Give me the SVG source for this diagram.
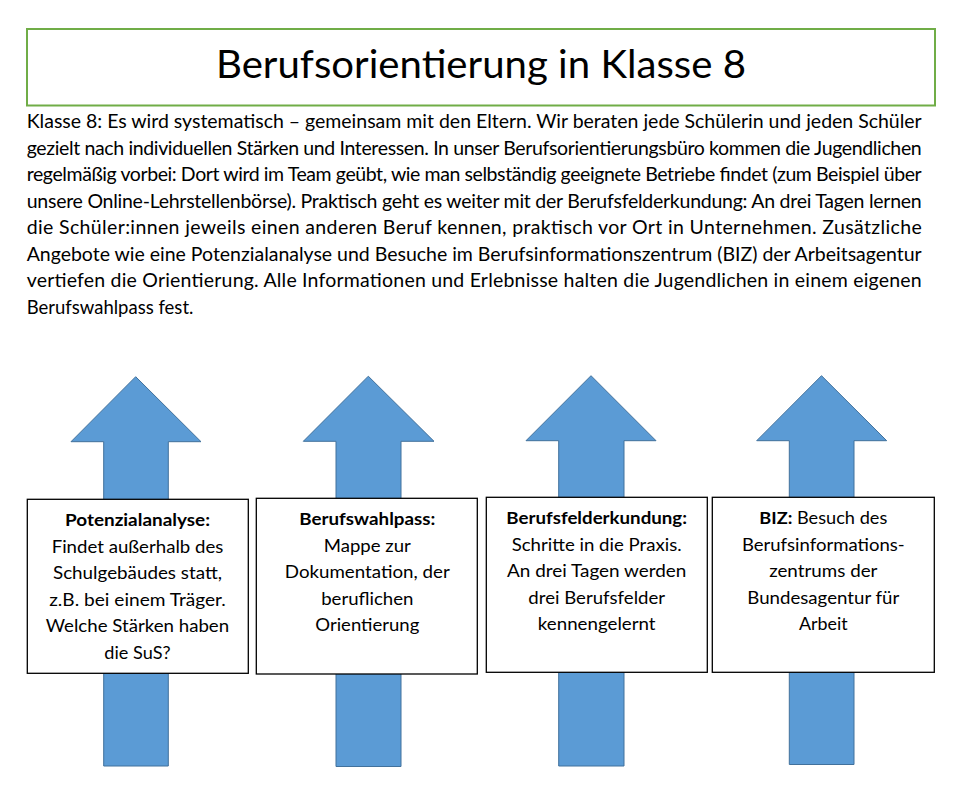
<svg xmlns="http://www.w3.org/2000/svg" width="960" height="789" viewBox="0 0 960 789">
<style>
text { font-family: Lato, "Liberation Sans", sans-serif; fill: #000; }
.title { font-size: 39px; text-anchor: middle; }
.para { font-size: 19.5px; }
.bt { font-size: 17.6px; text-anchor: middle; }
.b { font-weight: bold; }
.arrow { fill: #5B9BD5; stroke: #41719C; stroke-width: 1; }
.box { fill: #fff; stroke: #000; stroke-width: 1.3; }
</style>
<rect width="960" height="789" fill="#fff"/>
<g id="title">
<rect x="27" y="29" width="908" height="76.5" fill="#fff" stroke="#70AD47" stroke-width="2"/>
<text class="title" x="481" y="78.3" textLength="530" lengthAdjust="spacingAndGlyphs">Berufsorientierung in Klasse 8</text>
</g>
<g id="intro" class="para">
<text class="para" x="26.7" y="128.3" textLength="895" lengthAdjust="spacing">Klasse 8: Es wird systematisch – gemeinsam mit den Eltern. Wir beraten jede Schülerin und jeden Schüler</text>
<text class="para" x="26.7" y="154.8" textLength="895" lengthAdjust="spacing">gezielt nach individuellen Stärken und Interessen. In unser Berufsorientierungsbüro kommen die Jugendlichen</text>
<text class="para" x="26.7" y="181.3" textLength="895" lengthAdjust="spacing">regelmäßig vorbei: Dort wird im Team geübt, wie man selbständig geeignete Betriebe findet (zum Beispiel über</text>
<text class="para" x="26.7" y="207.8" textLength="895" lengthAdjust="spacing">unsere Online-Lehrstellenbörse). Praktisch geht es weiter mit der Berufsfelderkundung: An drei Tagen lernen</text>
<text class="para" x="26.7" y="234.3" textLength="895" lengthAdjust="spacing">die Schüler:innen jeweils einen anderen Beruf kennen, praktisch vor Ort in Unternehmen. Zusätzliche</text>
<text class="para" x="26.7" y="260.8" textLength="895" lengthAdjust="spacing">Angebote wie eine Potenzialanalyse und Besuche im Berufsinformationszentrum (BIZ) der Arbeitsagentur</text>
<text class="para" x="26.7" y="287.3" textLength="895" lengthAdjust="spacing">vertiefen die Orientierung. Alle Informationen und Erlebnisse halten die Jugendlichen in einem eigenen</text>
<text class="para" x="26.7" y="313.8" textLength="166.7" lengthAdjust="spacingAndGlyphs">Berufswahlpass fest.</text>
</g>
<g id="connectors">
<polygon id="arrow1" class="arrow" points="135.7,376.7 201,441.7 168.3,441.7 168.3,766 103.7,766 103.7,441.7 71,441.7"/>
<polygon id="arrow2" class="arrow" points="368.3,376.2 434,441.3 401,441.3 401,766.5 336,766.5 336,441.3 303.3,441.3"/>
<polygon id="arrow3" class="arrow" points="591,375.7 656,440.7 624,440.7 624,766 558.7,766 558.7,440.7 526,440.7"/>
<polygon id="arrow4" class="arrow" points="821.5,375.7 886.7,440.7 854,440.7 854,764.5 789.3,764.5 789.3,440.7 756.7,440.7"/>
</g>
<g id="node-potenzialanalyse">
<rect class="box" x="27.3" y="499.3" width="221" height="174"/>
<text class="bt b" x="137.5" y="526" textLength="145" lengthAdjust="spacingAndGlyphs">Potenzialanalyse:</text>
<text class="bt" x="137.5" y="552.5" textLength="171.7" lengthAdjust="spacingAndGlyphs">Findet außerhalb des</text>
<text class="bt" x="137.5" y="579" textLength="169" lengthAdjust="spacingAndGlyphs">Schulgebäudes statt,</text>
<text class="bt" x="137.5" y="605.5" textLength="176.7" lengthAdjust="spacingAndGlyphs">z.B. bei einem Träger.</text>
<text class="bt" x="137.5" y="632" textLength="183.3" lengthAdjust="spacingAndGlyphs">Welche Stärken haben</text>
<text class="bt" x="137.5" y="658.5" textLength="66.3" lengthAdjust="spacingAndGlyphs">die SuS?</text>
</g>
<g id="node-berufswahlpass">
<rect class="box" x="256.3" y="498.3" width="221" height="175.7"/>
<text class="bt b" x="367.3" y="525" textLength="136" lengthAdjust="spacingAndGlyphs">Berufswahlpass:</text>
<text class="bt" x="367.3" y="551.5" textLength="87" lengthAdjust="spacingAndGlyphs">Mappe zur</text>
<text class="bt" x="367.3" y="578" textLength="165" lengthAdjust="spacingAndGlyphs">Dokumentation, der</text>
<text class="bt" x="367.3" y="604.5" textLength="92.3" lengthAdjust="spacingAndGlyphs">beruflichen</text>
<text class="bt" x="367.3" y="631" textLength="104" lengthAdjust="spacingAndGlyphs">Orientierung</text>
</g>
<g id="node-berufsfelderkundung">
<rect class="box" x="486.3" y="497.3" width="221" height="175"/>
<text class="bt b" x="596.7" y="524" textLength="180.7" lengthAdjust="spacingAndGlyphs">Berufsfelderkundung:</text>
<text class="bt" x="596.7" y="550.5" textLength="170" lengthAdjust="spacingAndGlyphs">Schritte in die Praxis.</text>
<text class="bt" x="596.7" y="577" textLength="179.3" lengthAdjust="spacingAndGlyphs">An drei Tagen werden</text>
<text class="bt" x="596.7" y="603.5" textLength="136.7" lengthAdjust="spacingAndGlyphs">drei Berufsfelder</text>
<text class="bt" x="596.7" y="630" textLength="117.7" lengthAdjust="spacingAndGlyphs">kennengelernt</text>
</g>
<g id="node-biz">
<rect class="box" x="712.3" y="497.3" width="222" height="175"/>
<text class="bt" x="823.3" y="524" textLength="128" lengthAdjust="spacingAndGlyphs"><tspan class="b">BIZ:</tspan> Besuch des</text>
<text class="bt" x="823.3" y="550.5" textLength="162.7" lengthAdjust="spacingAndGlyphs">Berufsinformations-</text>
<text class="bt" x="823.3" y="577" textLength="108.3" lengthAdjust="spacingAndGlyphs">zentrums der</text>
<text class="bt" x="823.3" y="603.5" textLength="152" lengthAdjust="spacingAndGlyphs">Bundesagentur für</text>
<text class="bt" x="823.3" y="630" textLength="48.7" lengthAdjust="spacingAndGlyphs">Arbeit</text>
</g>
</svg>
